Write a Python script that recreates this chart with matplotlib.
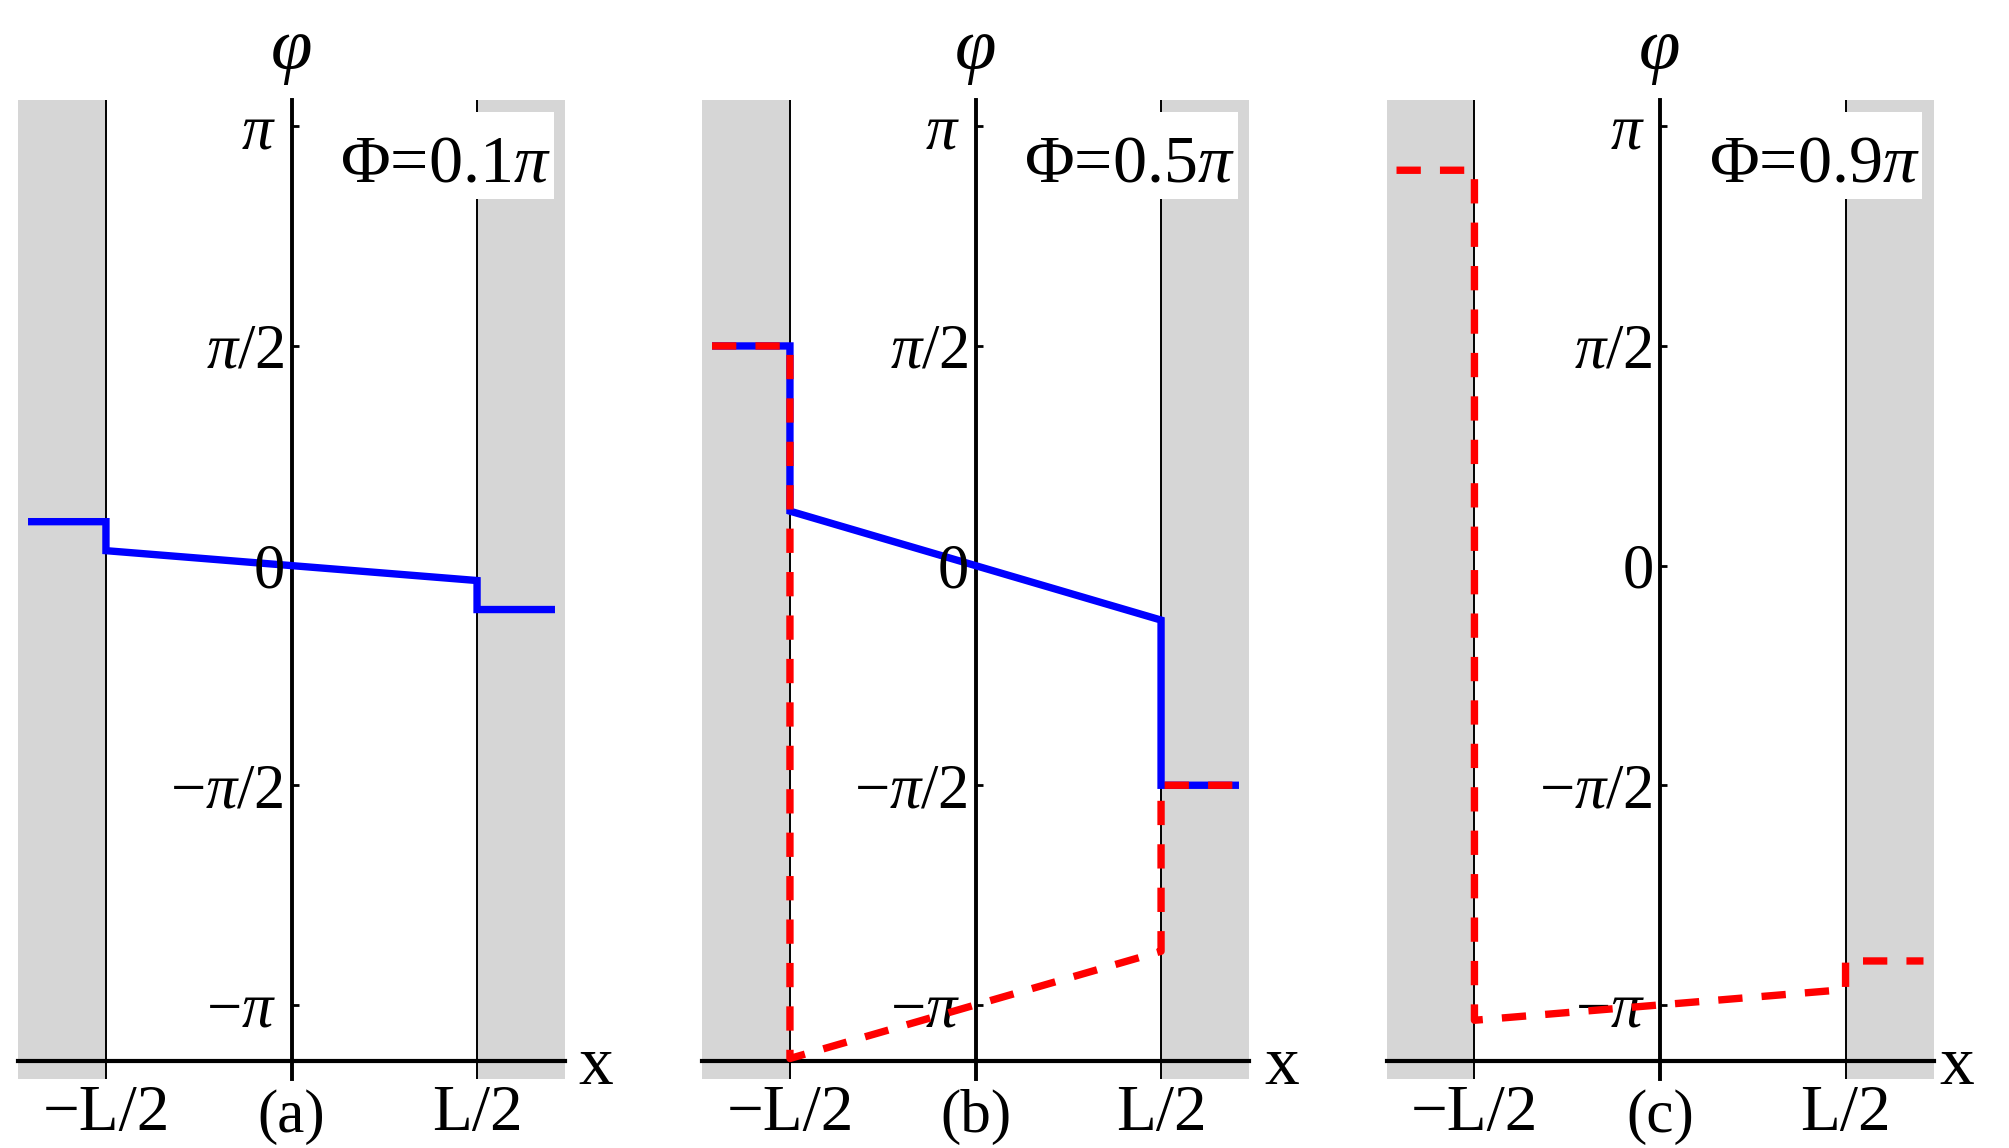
import numpy as np
import matplotlib
matplotlib.use("Agg")
import matplotlib.pyplot as plt
from matplotlib.transforms import offset_copy
from matplotlib.patches import Rectangle

plt.rcParams['font.family'] = ['Liberation Serif', 'DejaVu Serif']
plt.rcParams['mathtext.fontset'] = 'custom'
plt.rcParams['mathtext.rm'] = 'Liberation Serif'
plt.rcParams['mathtext.it'] = 'Liberation Serif:italic'
plt.rcParams['mathtext.bf'] = 'Liberation Serif:bold'

PI = np.pi

# ---------------- data (x in units of L/2, phi in units of pi) ----------------
x_half = [-1.42, -1.0, -1.0, 1.0, 1.0, 1.42]
phi_a_blue = [0.100, 0.100, 0.034, -0.034, -0.100, -0.100]
phi_b_blue = [0.500, 0.500, 0.124, -0.124, -0.500, -0.500]
phi_b_red = [0.500, 0.500, -1.122, -0.878, -0.500, -0.500]
phi_c_red = [0.900, 0.900, -1.035, -0.965, -0.900, -0.900]

panel_blue = [phi_a_blue, phi_b_blue, None]
panel_red = [None, phi_b_red, phi_c_red]
flux_labels = ['Φ=0.1', 'Φ=0.5', 'Φ=0.9']
panel_letters = ['(a)', '(b)', '(c)']

ytick_vals = [-1.0, -0.5, 0.0, 0.5, 1.0]
ytick_labels = [r'$-\pi$', r'$-\pi/2$', r'$0$', r'$\pi/2$', r'$\pi$']
xtick_vals = [-1.0, 1.0]
xtick_labels = ['\u2212L/2', 'L/2']

# ---------------- layout ----------------
W, H = 2009, 1148
fig = plt.figure(figsize=(W / 100, H / 100), dpi=100)
fig.patch.set_facecolor('white')

lefts_px = [18, 702, 1386.5]
ax_w_px = 547
top_px, bot_px = 100, 1079
XMAX = 1.474
YTOP, YBOT = 1.0599 * PI, -1.1687 * PI
XAXIS_Y = -1.1275 * PI
xlabel_x = [1.64, 1.65, 1.60]

GRAY = '#d6d6d6'

for i in range(3):
    ax = fig.add_axes([lefts_px[i] / W, (H - bot_px) / H, ax_w_px / W, (bot_px - top_px) / H])
    ax.set_xlim(-XMAX, XMAX)
    ax.set_ylim(YBOT, YTOP)
    ax.set_facecolor('white')

    ax.axvspan(-XMAX, -1.0, color=GRAY, lw=0, zorder=0)
    ax.axvspan(1.0, XMAX, color=GRAY, lw=0, zorder=0)
    ax.axvline(-1.0, color='black', lw=1.4, zorder=1)
    ax.axvline(1.0, color='black', lw=1.4, zorder=1)

    for s in ['top', 'right']:
        ax.spines[s].set_visible(False)
    ax.spines['left'].set_position(('data', 0.0))
    ax.spines['bottom'].set_position(('data', XAXIS_Y))
    ax.spines['left'].set_linewidth(2.8)
    ax.spines['bottom'].set_linewidth(3.0)
    ax.spines['left'].set_zorder(2)
    ax.spines['bottom'].set_zorder(2)

    ax.set_xticks([])
    ax.set_yticks([v * PI for v in ytick_vals])
    ax.tick_params(axis='y', direction='in', length=5, width=2,
                   labelleft=False, left=True)

    # curves
    if panel_blue[i] is not None:
        ax.plot(x_half, [v * PI for v in panel_blue[i]], color='#0000ff', lw=5.3,
                solid_joinstyle='miter', solid_capstyle='butt', zorder=3)
    if panel_red[i] is not None:
        ax.plot(x_half, [v * PI for v in panel_red[i]], color='#ff0000', lw=5.3,
                linestyle=(0, (3.3, 2.6)), dash_capstyle='butt', zorder=4)

    # y tick labels (baseline-aligned like the reference)
    for v, lab in zip(ytick_vals, ytick_labels):
        dx = -15.5 if lab.endswith(r'\pi$') else -7.5
        tr = offset_copy(ax.transData, fig=fig, x=dx, y=-22, units='dots')
        ax.text(0.0, v * PI, lab, transform=tr, ha='right', va='baseline',
                fontsize=45, clip_on=False)

    # x tick labels
    for v, lab in zip(xtick_vals, xtick_labels):
        ax.text(v, -1.285 * PI, lab, ha='center', va='baseline', fontsize=47,
                clip_on=False)
    ax.text(0.0, -1.290 * PI, panel_letters[i], ha='center', va='baseline',
            fontsize=44, clip_on=False)

    # axis labels
    ax.text(0.0, 1.0317, 'φ', transform=ax.get_xaxis_transform(), ha='center',
            va='baseline', fontsize=54, style='italic', clip_on=False)
    ax.text(xlabel_x[i], -1.18 * PI, 'x', ha='center', va='baseline', fontsize=50,
            clip_on=False)

    # flux label on a white box
    ax.add_patch(Rectangle((0.25, 0.8334 * PI), 1.4135 - 0.25, (1.0323 - 0.8334) * PI,
                           facecolor='white', edgecolor='none', zorder=5))
    ax.text(1.398, 0.874 * PI, flux_labels[i] + r'$\pi$', ha='right', va='baseline',
            fontsize=49, zorder=6)

fig.savefig('out.png', dpi=100, facecolor='white')
